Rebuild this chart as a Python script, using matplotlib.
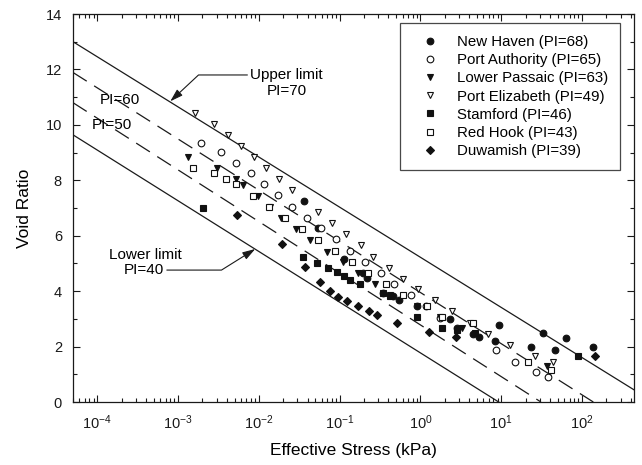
import matplotlib
matplotlib.use("Agg")
import matplotlib.pyplot as plt
from matplotlib.ticker import LogLocator, MultipleLocator, FixedLocator, FixedFormatter, NullFormatter

plt.rcParams['font.family'] = ['Liberation Sans', 'DejaVu Sans']
plt.rcParams['mathtext.fontset'] = 'custom'
plt.rcParams['mathtext.rm'] = 'Liberation Sans'
plt.rcParams['mathtext.it'] = 'Liberation Sans:italic'

# ---------------- data (effective stress in kPa, void ratio) ----------------
new_haven_x = [0.0363, 0.0537, 0.112, 0.195, 0.219, 0.347, 0.457, 0.550, 0.912, 2.34,
               2.82, 4.47, 5.37, 8.32, 9.33, 23.4, 33.1, 46.8, 63.1, 138]
new_haven_e = [7.25, 6.28, 5.16, 4.66, 4.47, 3.93, 3.83, 3.68, 3.46, 3.00,
               2.67, 2.45, 2.35, 2.20, 2.78, 1.98, 2.49, 1.88, 2.31, 1.98]

port_auth_x = [1.91e-3, 3.39e-3, 5.25e-3, 7.94e-3, 1.15e-2, 1.74e-2, 2.57e-2, 3.98e-2,
               5.89e-2, 9.12e-2, 0.135, 0.204, 0.324, 0.468, 0.759, 1.17, 1.74,
               8.71, 14.8, 26.9, 38.0]
port_auth_e = [9.35, 9.02, 8.62, 8.26, 7.87, 7.47, 7.04, 6.64, 6.28, 5.88, 5.45, 5.05,
               4.66, 4.26, 3.86, 3.46, 3.03, 1.88, 1.44, 1.08, 0.90]

lower_passaic_x = [1.32e-3, 3.02e-3, 5.25e-3, 6.31e-3, 9.77e-3, 1.38e-2, 1.86e-2, 2.88e-2,
                   4.27e-2, 6.92e-2, 0.110, 0.170, 0.275, 0.417, 0.912, 1.74, 3.24, 37.2]
lower_passaic_e = [8.84, 8.44, 8.05, 7.83, 7.43, 7.04, 6.64, 6.24, 5.85, 5.41, 5.05,
                   4.66, 4.26, 3.86, 3.46, 3.07, 2.67, 1.30]

port_eliz_x = [1.62e-3, 2.82e-3, 4.17e-3, 6.03e-3, 8.71e-3, 1.23e-2, 1.78e-2, 2.57e-2,
               5.37e-2, 8.13e-2, 0.120, 0.182, 0.257, 0.407, 0.603, 0.933, 1.51, 2.45,
               4.07, 6.92, 12.9, 26.3, 43.7]
port_eliz_e = [10.43, 10.03, 9.64, 9.24, 8.84, 8.44, 8.05, 7.65, 6.86, 6.46, 6.06, 5.67,
               5.23, 4.84, 4.44, 4.08, 3.68, 3.28, 2.85, 2.45, 2.06, 1.66, 1.44]

stamford_x = [2.04e-3, 3.55e-2, 5.25e-2, 7.24e-2, 9.33e-2, 0.112, 0.135, 0.178, 0.347,
              0.417, 0.912, 1.86, 2.82, 4.79, 89.1]
stamford_e = [7.00, 5.23, 5.02, 4.84, 4.69, 4.55, 4.40, 4.26, 3.93, 3.83, 3.07, 2.67,
              2.60, 2.49, 1.66]

red_hook_x = [1.55e-3, 2.82e-3, 3.89e-3, 5.25e-3, 8.51e-3, 1.35e-2, 2.09e-2, 3.39e-2,
              5.37e-2, 8.71e-2, 0.141, 0.224, 0.372, 0.603, 1.20, 1.86, 4.47, 21.4, 41.7]
red_hook_e = [8.44, 8.26, 8.05, 7.87, 7.43, 7.04, 6.64, 6.24, 5.85, 5.45, 5.05, 4.66,
              4.26, 3.86, 3.46, 3.07, 2.85, 1.44, 1.15]

duwamish_x = [5.37e-3, 1.95e-2, 3.72e-2, 5.75e-2, 7.59e-2, 9.55e-2, 0.123, 0.170,
              0.229, 0.288, 0.513, 1.29, 2.75, 145]
duwamish_e = [6.75, 5.70, 4.87, 4.33, 4.01, 3.79, 3.64, 3.46, 3.28, 3.14, 2.85, 2.53,
              2.35, 1.66]

series_labels = ["New Haven (PI=68)", "Port Authority (PI=65)", "Lower Passaic (PI=63)",
                 "Port Elizabeth (PI=49)", "Stamford (PI=46)", "Red Hook (PI=43)",
                 "Duwamish (PI=39)"]

x_tick_values = [1e-4, 1e-3, 1e-2, 1e-1, 1e0, 1e1, 1e2]
x_tick_labels = [r"$\mathdefault{10^{-4}}$", r"$\mathdefault{10^{-3}}$", r"$\mathdefault{10^{-2}}$",
                 r"$\mathdefault{10^{-1}}$", r"$\mathdefault{10^{0}}$", r"$\mathdefault{10^{1}}$",
                 r"$\mathdefault{10^{2}}$"]

# limit / PI lines: end points
upper_x, upper_e = [5e-5, 440], [13.0, 0.44]
pi60_x, pi60_e = [5e-5, 138], [11.89, 0.0]
pi50_x, pi50_e = [5e-5, 31], [10.8, 0.0]
lower_x, lower_e = [5e-5, 9.3], [9.64, 0.0]

# ---------------- figure ----------------
fig = plt.figure(figsize=(6.42, 4.65), dpi=100)
ax = fig.add_axes([73/642, 1-402/465, 561/642, 388/465])

lc = '#1a1a1a'
ax.plot(upper_x, upper_e, color=lc, lw=0.9)
ax.plot(lower_x, lower_e, color=lc, lw=0.9)
ax.plot(pi60_x, pi60_e, color=lc, lw=0.9, dashes=(13, 7))
ax.plot(pi50_x, pi50_e, color=lc, lw=0.9, dashes=(13, 7))

ms = 4.8
mk = dict(linestyle='none', markersize=ms, markeredgewidth=0.8, markeredgecolor='#111')
ax.plot(new_haven_x, new_haven_e, marker='o', color='#111', label=series_labels[0], **mk)
ax.plot(port_auth_x, port_auth_e, marker='o', markerfacecolor='white', color='#111', label=series_labels[1], **mk)
ax.plot(lower_passaic_x, lower_passaic_e, marker='v', color='#111', label=series_labels[2], **mk)
ax.plot(port_eliz_x, port_eliz_e, marker='v', markerfacecolor='white', color='#111', label=series_labels[3], **mk)
ax.plot(stamford_x, stamford_e, marker='s', color='#111', label=series_labels[4], **mk)
ax.plot(red_hook_x, red_hook_e, marker='s', markerfacecolor='white', color='#111', label=series_labels[5], **mk)
ax.plot(duwamish_x, duwamish_e, marker='D', color='#111', label=series_labels[6],
        linestyle='none', markersize=ms-0.6, markeredgewidth=0.8, markeredgecolor='#111')

ax.set_xscale('log')
ax.set_xlim(5e-5, 440)
ax.set_ylim(0, 14)

ax.xaxis.set_major_locator(FixedLocator(x_tick_values))
ax.xaxis.set_major_formatter(FixedFormatter(x_tick_labels))
ax.xaxis.set_minor_locator(LogLocator(base=10, subs=range(2, 10), numticks=20))
ax.xaxis.set_minor_formatter(NullFormatter())
ax.yaxis.set_major_locator(MultipleLocator(2))
ax.yaxis.set_minor_locator(MultipleLocator(1))

ax.tick_params(which='both', direction='in', top=True, right=True, colors='#1a1a1a',
               labelsize=10.5, width=0.8)
ax.tick_params(which='major', length=5)
ax.tick_params(which='minor', length=3)
ax.tick_params(axis='y', pad=8)
ax.tick_params(axis='x', pad=8)
for s in ax.spines.values():
    s.set_linewidth(0.9)
    s.set_color('#1a1a1a')

ax.set_xlabel("Effective Stress (kPa)", fontsize=12.5, labelpad=8)
ax.set_ylabel("Void Ratio", fontsize=12.5, labelpad=10)

leg = ax.legend(loc='upper right', bbox_to_anchor=(0.975, 0.977), fontsize=10.8,
                frameon=True, fancybox=False, edgecolor='#1a1a1a', borderpad=0.8,
                handlelength=2.4, handletextpad=0.6, labelspacing=0.28, numpoints=1,
                borderaxespad=0)
leg.get_frame().set_linewidth(0.9)

# annotations
arrow = dict(arrowstyle='-|>,head_length=0.7,head_width=0.22', color=lc, lw=0.8,
             shrinkA=0, shrinkB=0, connectionstyle='angle,angleA=0,angleB=43,rad=0')
ax.annotate("Upper limit", xy=(8e-4, 10.85), xytext=(7.8e-3, 11.8), ha='left', va='center',
            fontsize=11, arrowprops=dict(arrow, relpos=(0, 0.5)))
ax.text(2.24e-2, 11.22, "PI=70", ha='center', va='center', fontsize=11)
ax.text(1.08e-4, 10.9, "PI=60", ha='left', va='center', fontsize=11)
ax.text(8.6e-5, 10.0, "PI=50", ha='left', va='center', fontsize=11)
ax.text(3.9e-4, 5.3, "Lower limit", ha='center', va='center', fontsize=11)
arrow2 = dict(arrow, connectionstyle='angle,angleA=0,angleB=32,rad=0', relpos=(1, 0.5))
ax.annotate("PI=40", xy=(9e-3, 5.52), xytext=(6.7e-4, 4.76), ha='right', va='center',
            fontsize=11, arrowprops=arrow2)

fig.savefig("out.png", dpi=100)
